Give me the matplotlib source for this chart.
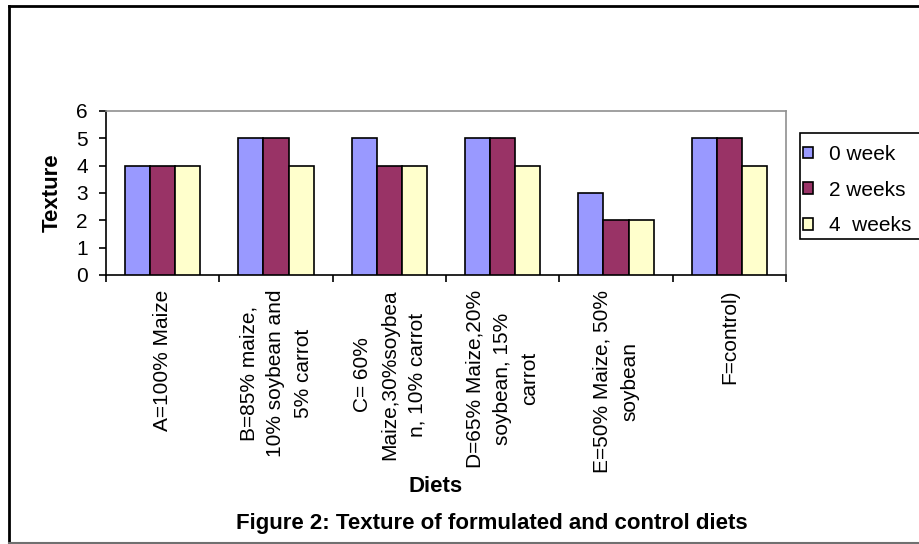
import numpy as np
import matplotlib
matplotlib.use('Agg')
import matplotlib.pyplot as plt
from matplotlib.patches import Rectangle

diets = ['A=100% Maize',
         'B=85% maize,\n10% soybean and\n5% carrot',
         'C= 60%\nMaize,30%soybea\nn, 10% carrot',
         'D=65% Maize,20%\nsoybean, 15%\ncarrot',
         'E=50% Maize, 50%\nsoybean',
         'F=control)']
series = ['0 week', '2 weeks', '4  weeks']
week0 = [4, 5, 5, 5, 3, 5]
week2 = [4, 5, 4, 5, 2, 5]
week4 = [4, 4, 4, 4, 2, 4]
colors = ['#9999FF', '#993366', '#FFFFCC']

plt.rcParams['font.family'] = ['Liberation Sans', 'DejaVu Sans']

W, H = 920, 544


def main():
    fig = plt.figure(figsize=(W/100, H/100), dpi=100)

    # outer chart border
    fig.add_artist(plt.Line2D([9/W, 9/W], [0, 1-6/H], color='k', lw=2, transform=fig.transFigure))
    fig.add_artist(plt.Line2D([9/W, 1], [1-6/H, 1-6/H], color='k', lw=2, transform=fig.transFigure))
    fig.add_artist(plt.Line2D([9/W, 1], [1.5/H, 1.5/H], color='#707070', lw=1.5, transform=fig.transFigure))

    left, right, top, bot = 106, 786, 111, 275
    ax = fig.add_axes([left/W, (H-bot)/H, (right-left)/W, (bot-top)/H])

    x = np.arange(len(diets))
    bw = 1/4.5
    for k, vals in enumerate([week0, week2, week4]):
        ax.bar(x + (k-1)*bw, vals, bw, color=colors[k], edgecolor='k', lw=1.2, label=series[k], zorder=3)

    ax.set_xlim(-0.5, len(diets)-0.5)
    ax.set_ylim(0, 6)
    ax.set_yticks(range(7))
    ax.tick_params(axis='y', labelsize=15, length=5, width=1.2, direction='out', pad=8)

    ax.set_xticks(x)
    ax.set_xticklabels(diets, rotation=90, fontsize=15, va='top', ha='center',
                       multialignment='center', linespacing=1.55)
    ax.set_xticks(np.arange(-0.5, len(diets)), minor=True)
    ax.tick_params(axis='x', which='major', length=0, pad=10.5)
    ax.tick_params(axis='x', which='minor', length=5, width=1.2, direction='out')

    for s in ['top', 'right']:
        ax.spines[s].set_color('#909090')
        ax.spines[s].set_linewidth(1.2)
    for s in ['left', 'bottom']:
        ax.spines[s].set_color('k')
        ax.spines[s].set_linewidth(1.2)

    fig.text(52/W, 1-193/H, 'Texture', fontsize=16, fontweight='bold', rotation=90,
             ha='center', va='center')
    fig.text(436/W, 1-486/H, 'Diets', fontsize=16, fontweight='bold', ha='center', va='center')
    fig.text(492/W, 1-523/H, 'Figure 2: Texture of formulated and control diets',
             fontsize=16, fontweight='bold', ha='center', va='center')

    # legend box, drawn separately so the handles can sit near its left edge
    fig.add_artist(Rectangle((800/W, 1-239/H), 130/W, 106/H, transform=fig.transFigure,
                             facecolor='white', edgecolor='k', lw=1.2, zorder=4))
    handles, labels = ax.get_legend_handles_labels()
    leg = fig.legend(handles, labels, loc='upper left', bbox_to_anchor=(803/W, 1-145/H),
                     bbox_transform=fig.transFigure,
                     fontsize=15, frameon=False, handlelength=0.48, handleheight=0.48,
                     handletextpad=0.75, labelspacing=0.8, borderpad=0, borderaxespad=0)
    leg.set_zorder(6)

    fig.savefig('out.png', dpi=100)


if __name__ == '__main__':
    main()
